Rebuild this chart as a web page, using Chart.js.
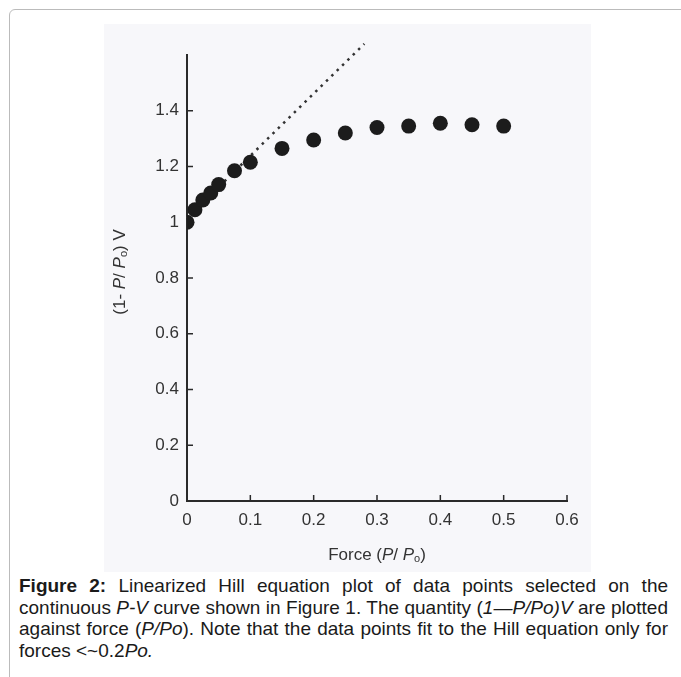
<!DOCTYPE html>
<html>
<head>
<meta charset="utf-8">
<title>Linearized Hill equation plot</title>
<script src="https://cdn.jsdelivr.net/npm/chart.js@4.4.1/dist/chart.umd.min.js"></script>
<style>
  html, body { margin: 0; padding: 0; background: #fff; }
  body { width: 681px; height: 677px; position: relative; overflow: hidden; font-family: "Liberation Sans", Arial, sans-serif; }
  .frame { position: absolute; left: 9px; top: 9px; width: 720px; height: 720px; border: 1.5px solid #bbb; border-top-left-radius: 6px; box-sizing: border-box; }
  .scan { position: absolute; left: 104px; top: 24px; width: 487px; height: 548px; background: #f7f7fa; }
  .caption { position: absolute; left: 19px; top: 575px; width: 649px; font-family: "Liberation Sans Narrow", "Arial Narrow", "Liberation Sans", sans-serif; font-size: 19px; line-height: 21.5px; color: #1a1a1a; }
  .caption div { text-align: justify; text-align-last: justify; white-space: nowrap; }
  .caption div.last { text-align-last: left; }
</style>
</head>
<body>
<div class="frame"></div>
<div class="scan">
  <canvas id="hillChart" width="487" height="548"></canvas>
</div>
<div class="caption">
  <div><b>Figure 2:</b> Linearized Hill equation plot of data points selected on the</div>
  <div>continuous <i>P-V</i> curve shown in Figure 1. The quantity (<i>1—P/Po)V</i> are plotted</div>
  <div>against force (<i>P/Po</i>). Note that the data points fit to the Hill equation only for</div>
  <div class="last">forces &lt;~0.2<i>Po.</i></div>
</div>
<script>
// data
const forceValues = [0, 0.0125, 0.025, 0.0375, 0.05, 0.075, 0.1, 0.15, 0.2, 0.25, 0.3, 0.35, 0.4, 0.45, 0.5];
const hillValues = [1.0, 1.045, 1.08, 1.105, 1.135, 1.185, 1.215, 1.265, 1.295, 1.32, 1.34, 1.345, 1.355, 1.35, 1.345];

// dotted Hill fit line
const fitForce = [0, 0.28];
const fitHill = [1.015, 1.64];

const xTicks = [0, 0.1, 0.2, 0.3, 0.4, 0.5, 0.6];
const yTicks = [0, 0.2, 0.4, 0.6, 0.8, 1, 1.2, 1.4];

const ink = '#2a2a2a';
const labelFont = { family: '"Liberation Sans", Arial, sans-serif', size: 17 };

function fmt(v) {
    return String(Number(v.toFixed(1)));
}

// small tick marks pointing into the plot
const inwardTicks = {
    id: 'inwardTicks',
    beforeDatasetsDraw(chart) {
        const { ctx, chartArea, scales } = chart;
        ctx.save();
        ctx.strokeStyle = ink;
        ctx.lineWidth = 1.5;
        ctx.beginPath();
        xTicks.forEach(function (v) {
            if (v === 0) return;
            const px = scales.x.getPixelForValue(v);
            ctx.moveTo(px, chartArea.bottom);
            ctx.lineTo(px, chartArea.bottom - 6);
        });
        yTicks.forEach(function (v) {
            if (v === 0) return;
            const py = scales.y.getPixelForValue(v);
            ctx.moveTo(chartArea.left, py);
            ctx.lineTo(chartArea.left + 6, py);
        });
        ctx.stroke();
        ctx.restore();
    }
};

// axis titles with italic P and subscript o
function drawRich(ctx, parts, size) {
    const fam = '"Liberation Sans", Arial, sans-serif';
    const fontOf = function (p) {
        const s = p.sub ? Math.round(size * 0.65) : size;
        return (p.i ? 'italic ' : '') + s + 'px ' + fam;
    };
    let total = 0;
    parts.forEach(function (p) {
        ctx.font = fontOf(p);
        p.w = ctx.measureText(p.t).width;
        total += p.w;
    });
    let x = -total / 2;
    ctx.textBaseline = 'middle';
    ctx.textAlign = 'left';
    parts.forEach(function (p) {
        ctx.font = fontOf(p);
        ctx.fillText(p.t, x, p.sub ? size * 0.22 : 0);
        x += p.w;
    });
}

const axisTitles = {
    id: 'axisTitles',
    afterDraw(chart) {
        const { ctx, chartArea } = chart;
        ctx.save();
        ctx.fillStyle = '#333';
        ctx.translate((chartArea.left + chartArea.right) / 2, chartArea.bottom + 54);
        drawRich(ctx, [
            { t: 'Force (' }, { t: 'P', i: true }, { t: '/ ' }, { t: 'P', i: true }, { t: 'o', sub: true }, { t: ')' }
        ], 17);
        ctx.restore();

        ctx.save();
        ctx.fillStyle = '#333';
        ctx.translate(16, (chartArea.top + chartArea.bottom) / 2 - 6);
        ctx.rotate(-Math.PI / 2);
        drawRich(ctx, [
            { t: '(1- ' }, { t: 'P', i: true }, { t: '/ ' }, { t: 'P', i: true }, { t: 'o', sub: true }, { t: ') V' }
        ], 17);
        ctx.restore();
    }
};

const ctx = document.getElementById('hillChart').getContext('2d');

const hillChart = new Chart(ctx, {
    type: 'scatter',
    data: {
        datasets: [{
            label: 'Data points',
            data: forceValues.map(function (f, i) { return { x: f, y: hillValues[i] }; }),
            backgroundColor: '#1c1c1c',
            borderWidth: 0,
            pointRadius: 7.5,
            order: 1
        }, {
            label: 'Hill fit',
            type: 'line',
            data: fitForce.map(function (f, i) { return { x: f, y: fitHill[i] }; }),
            borderColor: '#333',
            borderWidth: 2.5,
            borderDash: [2.5, 5],
            pointRadius: 0,
            fill: false,
            clip: false,
            order: 2
        }]
    },
    options: {
        responsive: false,
        animation: false,
        layout: { padding: { top: 31, right: 24, left: 0, bottom: 0 } },
        plugins: {
            legend: { display: false },
            tooltip: { enabled: false }
        },
        scales: {
            x: {
                type: 'linear',
                min: 0,
                max: 0.6,
                afterBuildTicks: function (scale) { scale.ticks = xTicks.map(function (v) { return { value: v }; }); },
                afterFit: function (scale) { scale.height = 71; },
                grid: { display: false, drawTicks: false },
                border: { display: true, color: ink, width: 2 },
                ticks: { padding: 9, color: '#333', font: labelFont, callback: fmt, maxRotation: 0 }
            },
            y: {
                type: 'linear',
                min: 0,
                max: 1.6,
                afterBuildTicks: function (scale) { scale.ticks = yTicks.map(function (v) { return { value: v }; }); },
                afterFit: function (scale) { scale.width = 83; },
                grid: { display: false, drawTicks: false },
                border: { display: true, color: ink, width: 2 },
                ticks: { padding: 8, color: '#333', font: labelFont, callback: fmt }
            }
        }
    },
    plugins: [inwardTicks, axisTitles]
});
</script>
</body>
</html>
